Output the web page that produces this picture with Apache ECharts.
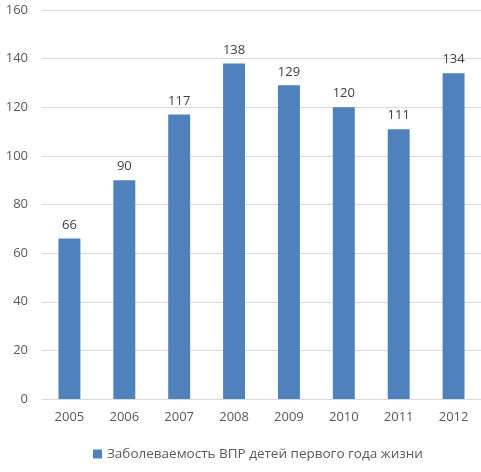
<!DOCTYPE html>
<html>
<head>
<meta charset="utf-8">
<script src="https://cdn.jsdelivr.net/npm/echarts@6/dist/echarts.min.js"></script>
<style>
  html, body { margin: 0; padding: 0; background: #ffffff; }
  #chart { width: 481px; height: 472px; }
</style>
</head>
<body>
<div id="chart"></div>
<script>
  // данные с картинки
  var years = ['2005', '2006', '2007', '2008', '2009', '2010', '2011', '2012'];
  var values = [66, 90, 117, 138, 129, 120, 111, 134];
  var seriesName = 'Заболеваемость ВПР детей первого года жизни';

  var FONT = '"Open Sans", "Noto Sans", sans-serif';
  var BAR = '#4f81bd';
  var TEXT = '#595959';

  var chart = echarts.init(document.getElementById('chart'));
  chart.setOption({
    animation: false,
    textStyle: { fontFamily: FONT },
    grid: { left: 42, right: 0, top: 10, bottom: 73, containLabel: false },
    legend: {
      bottom: 6,
      left: 88,
      icon: 'rect',
      itemWidth: 9, itemHeight: 9, itemGap: 6,
      textStyle: { color: TEXT, fontSize: 13.5, fontFamily: FONT },
      data: [seriesName]
    },
    xAxis: {
      type: 'category',
      data: years,
      axisLine: { lineStyle: { color: '#d9d9d9' } },
      axisTick: { show: false },
      axisLabel: { color: TEXT, fontSize: 13, margin: 12 }
    },
    yAxis: {
      type: 'value',
      min: 0, max: 160, interval: 20,
      axisLine: { show: false },
      axisTick: { show: false },
      axisLabel: { color: TEXT, fontSize: 13, margin: 14 },
      splitLine: { lineStyle: { color: '#d9d9d9' } }
    },
    series: [{
      name: seriesName,
      type: 'bar',
      barWidth: '40%',
      itemStyle: { color: BAR },
      label: { show: true, position: 'top', distance: 7, color: '#404040', fontSize: 13 },
      data: values
    }]
  });
</script>
</body>
</html>
